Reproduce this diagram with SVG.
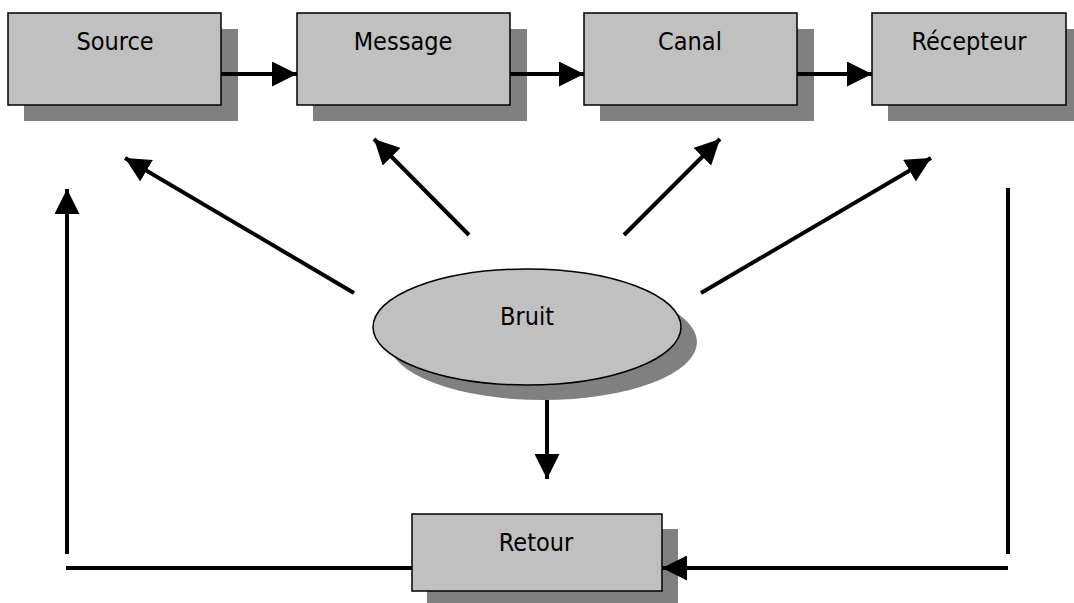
<svg xmlns="http://www.w3.org/2000/svg" width="1074" height="603" viewBox="0 0 1074 603">
<style>
.box{fill:#c0c0c0;stroke:#000;stroke-width:1.5}
.sh{fill:#808080}
.lbl{font-family:"DejaVu Sans Condensed","DejaVu Sans",sans-serif;font-stretch:condensed;font-size:25px;fill:#000;text-anchor:middle}
.con{stroke:#000;stroke-width:4;fill:none}
</style>
<defs>
<marker id="ah" viewBox="0 0 25 25" refX="25" refY="12.5" markerWidth="25" markerHeight="25" markerUnits="userSpaceOnUse" orient="auto">
<path d="M0,0 L25,12.5 L0,25 Z" fill="#000"/>
</marker>
</defs>
<rect width="1074" height="603" fill="#fff"/>
<g id="source">
<rect class="sh" x="24" y="29" width="214" height="92"/>
<rect class="box" x="8" y="13" width="213" height="92"/>
<text class="lbl" x="115" y="50">Source</text>
</g>
<g id="message">
<rect class="sh" x="313" y="29" width="214" height="92"/>
<rect class="box" x="297" y="13" width="213" height="92"/>
<text class="lbl" x="403" y="50">Message</text>
</g>
<g id="canal">
<rect class="sh" x="600" y="29" width="214" height="92"/>
<rect class="box" x="584" y="13" width="213" height="92"/>
<text class="lbl" x="690" y="50">Canal</text>
</g>
<g id="recepteur">
<rect class="sh" x="888" y="29" width="194" height="92"/>
<rect class="box" x="872" y="13" width="194" height="92"/>
<text class="lbl" x="969" y="50">Récepteur</text>
</g>
<g id="bruit">
<ellipse class="sh" cx="543" cy="342" rx="154" ry="58"/>
<ellipse class="box" cx="527" cy="327" rx="154" ry="58"/>
<text class="lbl" x="527" y="325">Bruit</text>
</g>
<g id="retour">
<rect class="sh" x="427" y="529" width="251" height="77"/>
<rect class="box" x="412" y="514" width="250" height="77"/>
<text class="lbl" x="536" y="551">Retour</text>
</g>
<g id="connectors">
<line class="con" x1="221" y1="74" x2="297" y2="74" marker-end="url(#ah)"/>
<line class="con" x1="510" y1="74" x2="584" y2="74" marker-end="url(#ah)"/>
<line class="con" x1="797" y1="74" x2="872" y2="74" marker-end="url(#ah)"/>
<line class="con" x1="354" y1="293" x2="125" y2="158" marker-end="url(#ah)"/>
<line class="con" x1="469" y1="235" x2="374" y2="139" marker-end="url(#ah)"/>
<line class="con" x1="624" y1="235" x2="720" y2="139" marker-end="url(#ah)"/>
<line class="con" x1="701" y1="293" x2="931" y2="158" marker-end="url(#ah)"/>
<line class="con" x1="547" y1="400" x2="547" y2="479" marker-end="url(#ah)"/>
<line class="con" x1="1008" y1="188" x2="1008" y2="554"/>
<line class="con" x1="1008" y1="568" x2="662" y2="568" marker-end="url(#ah)"/>
<line class="con" x1="412" y1="568" x2="66" y2="568"/>
<line class="con" x1="67" y1="554" x2="67" y2="189" marker-end="url(#ah)"/>
</g>
</svg>
